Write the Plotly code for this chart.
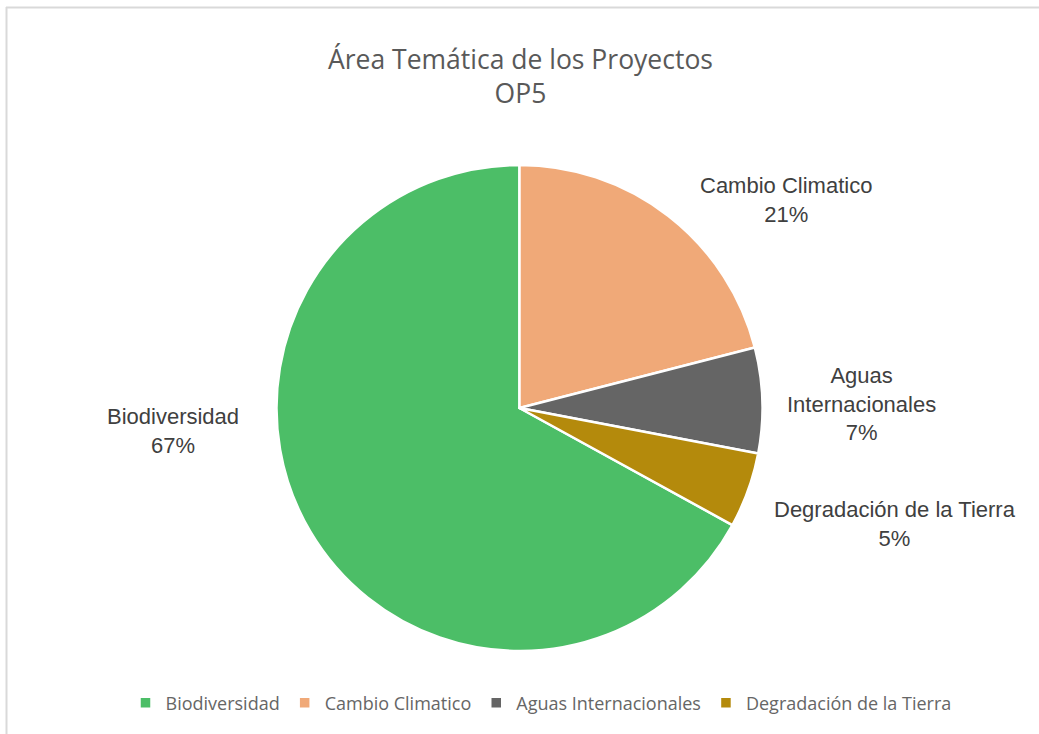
import plotly.graph_objects as go

categories = ["Biodiversidad", "Cambio Climatico", "Aguas Internacionales", "Degradación de la Tierra"]
label_text = ["Biodiversidad", "Cambio Climatico", "Aguas<br>Internacionales", "Degradación de la Tierra"]
values = [67, 21, 7, 5]
title_text = "Área Temática de los Proyectos<br>OP5"

colors = ["#4cbe67", "#f0a978", "#656565", "#b48a0c"]
W, H = 1039, 734
# label block centers in pixels (layout only)
label_pos = [(173, 431), (786, 200), (861, 404), (895, 524)]

total = sum(values)

fig = go.Figure(go.Pie(
    labels=categories,
    values=values,
    textinfo="none",
    marker=dict(colors=colors, line=dict(color="white", width=2.5)),
    sort=False,
    direction="clockwise",
    rotation=118.8,
    automargin=False,
    hoverinfo="label+percent",
    domain=dict(x=[0, 1], y=[83 / H, 569 / H]),
))

annotations = []
for txt, v, (px, py) in zip(label_text, values, label_pos):
    annotations.append(dict(
        text=f"{txt}<br>{round(100 * v / total)}%",
        xref="paper", yref="paper", x=px / W, y=1 - py / H,
        xanchor="center", yanchor="middle", showarrow=False, align="center",
        font=dict(family="Liberation Sans, Arial", size=22, color="#404040"),
    ))
annotations.append(dict(
    text=title_text, xref="paper", yref="paper", x=520 / W, y=1 - 76 / H,
    xanchor="center", yanchor="middle", showarrow=False, align="center",
    font=dict(family="Open Sans", size=26.5, color="#595959"),
))

fig.update_layout(
    width=W, height=H,
    paper_bgcolor="white",
    margin=dict(l=0, r=0, t=0, b=0),
    showlegend=True,
    legend=dict(orientation="h", x=541 / W, xanchor="center", y=1 - 703 / H, yanchor="middle",
                font=dict(family="Open Sans", size=18, color="#666666"),
                traceorder="normal"),
    annotations=annotations,
    shapes=[
        dict(type="line", xref="paper", yref="paper", x0=6 / W, x1=1, y0=1 - 7.5 / H, y1=1 - 7.5 / H,
             line=dict(color="#d9d9d9", width=2)),
        dict(type="line", xref="paper", yref="paper", x0=6.5 / W, x1=6.5 / W, y0=0, y1=1 - 7 / H,
             line=dict(color="#d9d9d9", width=2)),
    ],
)

fig.write_html("out.html", config={"displayModeBar": False},
               post_script="document.body.style.margin='0';")
